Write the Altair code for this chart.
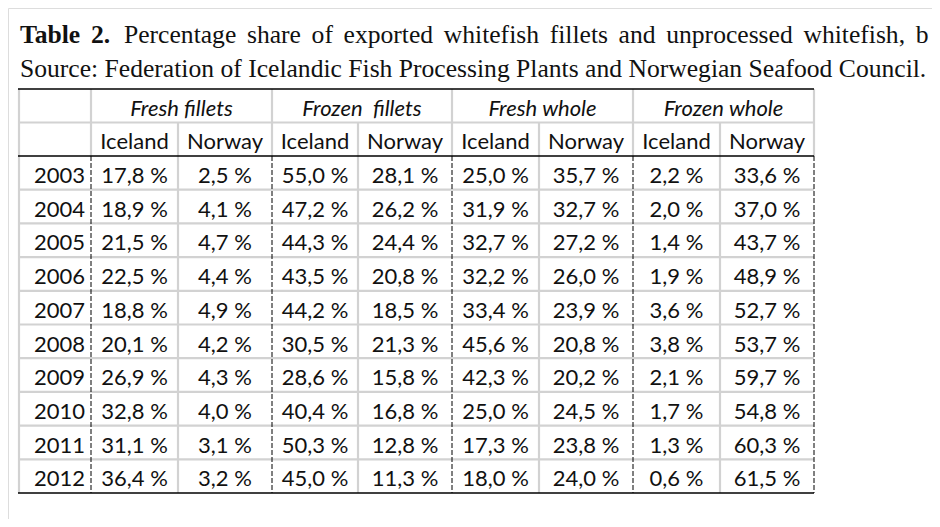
import altair as alt
import pandas as pd

# ---------------- data ----------------
years = [2003, 2004, 2005, 2006, 2007, 2008, 2009, 2010, 2011, 2012]
groups = ["Fresh fillets", "Frozen\u00a0 fillets", "Fresh whole", "Frozen whole"]
countries = ["Iceland", "Norway"]
fresh_fillets_iceland = [17.8, 18.9, 21.5, 22.5, 18.8, 20.1, 26.9, 32.8, 31.1, 36.4]
fresh_fillets_norway = [2.5, 4.1, 4.7, 4.4, 4.9, 4.2, 4.3, 4.0, 3.1, 3.2]
frozen_fillets_iceland = [55.0, 47.2, 44.3, 43.5, 44.2, 30.5, 28.6, 40.4, 50.3, 45.0]
frozen_fillets_norway = [28.1, 26.2, 24.4, 20.8, 18.5, 21.3, 15.8, 16.8, 12.8, 11.3]
fresh_whole_iceland = [25.0, 31.9, 32.7, 32.2, 33.4, 45.6, 42.3, 25.0, 17.3, 18.0]
fresh_whole_norway = [35.7, 32.7, 27.2, 26.0, 23.9, 20.8, 20.2, 24.5, 23.8, 24.0]
frozen_whole_iceland = [2.2, 2.0, 1.4, 1.9, 3.6, 3.8, 2.1, 1.7, 1.3, 0.6]
frozen_whole_norway = [33.6, 37.0, 43.7, 48.9, 52.7, 53.7, 59.7, 54.8, 60.3, 61.5]
series = [fresh_fillets_iceland, fresh_fillets_norway,
          frozen_fillets_iceland, frozen_fillets_norway,
          fresh_whole_iceland, fresh_whole_norway,
          frozen_whole_iceland, frozen_whole_norway]

sp = "\u2006"  # extra word space for the justified first line
title_line1_bold = "Table" + sp + " 2."
title_line1 = sp.join(["Percentage ", "share ", "of ", "exported ", "whitefish ", "fillets ",
                       "and ", "unprocessed ", "whitefish, ", "b"])
title_line2 = "Source: Federation of Icelandic Fish Processing Plants and Norwegian Seafood Council."

# ---------------- layout (page pixels) ----------------
col_edges = [18, 91, 178, 272, 358, 452, 539, 633, 720, 814]
head_top, head_mid, head_bot = 89, 122.5, 156
row_h = 33.7
row_edges = [head_bot + i * row_h for i in range(len(years) + 1)]
base_off = 27
GRAY = "#d2d2d2"
TXT = "#111111"
SANS = "Lato"
SERIF = "Liberation Serif"
TITLE_FS = 25.6

# cell texts
cells = []
for ci, vals in enumerate(series):
    cx = (col_edges[ci + 1] + col_edges[ci + 2]) / 2
    for ri, v in enumerate(vals):
        cells.append({"x": cx, "y": row_edges[ri] + base_off,
                      "t": f"{v:.1f}".replace(".", ",") + " %"})
cells = pd.DataFrame(cells)

year_df = pd.DataFrame({"x": [col_edges[1] - 6] * len(years),
                        "y": [row_edges[i] + base_off for i in range(len(years))],
                        "t": [str(y) for y in years]})

country_df = pd.DataFrame({
    "x": [(col_edges[i + 1] + col_edges[i + 2]) / 2 for i in range(8)],
    "y": [head_mid + base_off - 0.5] * 8,
    "t": [countries[i % 2] for i in range(8)]})

group_df = pd.DataFrame({
    "x": [(col_edges[1 + 2 * g] + col_edges[3 + 2 * g]) / 2 for g in range(4)],
    "y": [head_top + base_off] * 4,
    "t": groups})

# lines
gray_lines, black_lines, dash_lines = [], [], []
for yy in [head_mid] + row_edges[1:-1]:
    gray_lines.append({"x": col_edges[0], "x2": col_edges[-1], "y": yy, "y2": yy})
gray_lines.append({"x": col_edges[0] + 1, "x2": col_edges[0] + 1, "y": head_top, "y2": row_edges[-1]})
for i, xx in enumerate(col_edges[1:], start=1):
    if i % 2 == 1:  # group borders: gray in header, dashed in body
        gray_lines.append({"x": xx, "x2": xx, "y": head_top, "y2": head_bot})
        dash_lines.append({"x": xx, "x2": xx, "y": head_bot, "y2": row_edges[-1]})
    else:  # inner country split: gray from 2nd header row down
        gray_lines.append({"x": xx, "x2": xx, "y": head_mid, "y2": row_edges[-1]})
for yy in [head_top, head_bot, row_edges[-1]]:
    black_lines.append({"x": col_edges[0], "x2": col_edges[-1], "y": yy, "y2": yy})
gray_lines = pd.DataFrame(gray_lines)
black_lines = pd.DataFrame(black_lines)
dash_lines = pd.DataFrame(dash_lines)

# ---------------- chart ----------------
W, H = 924, 511
xs = alt.Scale(domain=[8, 8 + W], nice=False, zero=False)
ys = alt.Scale(domain=[8, 8 + H], nice=False, zero=False, reverse=True)
X = lambda f="x": alt.X(f"{f}:Q", scale=xs, axis=None)
Y = lambda f="y": alt.Y(f"{f}:Q", scale=ys, axis=None)

def rules(df, color, width, dash=None):
    kw = dict(color=color, strokeWidth=width)
    if dash:
        kw["strokeDash"] = dash
    return alt.Chart(df).mark_rule(**kw).encode(x=X(), x2="x2:Q", y=Y(), y2="y2:Q")

def texts(df, **kw):
    return alt.Chart(df).mark_text(baseline="alphabetic", color=TXT, **kw).encode(
        x=X(), y=Y(), text="t:N")

t1 = texts(pd.DataFrame([{"x": 20, "y": 43, "t": title_line1_bold}]),
           align="left", font=SERIF, fontSize=TITLE_FS, fontWeight="bold")
t1b = texts(pd.DataFrame([{"x": 124, "y": 43, "t": title_line1}]),
            align="left", font=SERIF, fontSize=TITLE_FS)
t2 = texts(pd.DataFrame([{"x": 20, "y": 77, "t": title_line2}]),
           align="left", font=SERIF, fontSize=TITLE_FS)

chart = alt.layer(
    rules(gray_lines, GRAY, 2.2),
    rules(black_lines, "#000000", 1.3),
    rules(dash_lines, "#000000", 1, [5, 2]),
    texts(group_df, align="center", font=SANS, fontSize=22, fontStyle="italic"),
    texts(country_df, align="center", font=SANS, fontSize=22),
    texts(year_df, align="right", font=SANS, fontSize=22),
    texts(cells, align="center", font=SANS, fontSize=22),
    t1, t1b, t2,
).properties(width=W, height=H, padding=0, autosize=alt.AutoSizeParams(type="none")
).configure_view(stroke=None).configure(background="white")

chart.save("out.html", embed_options={"renderer": "svg", "actions": False})
